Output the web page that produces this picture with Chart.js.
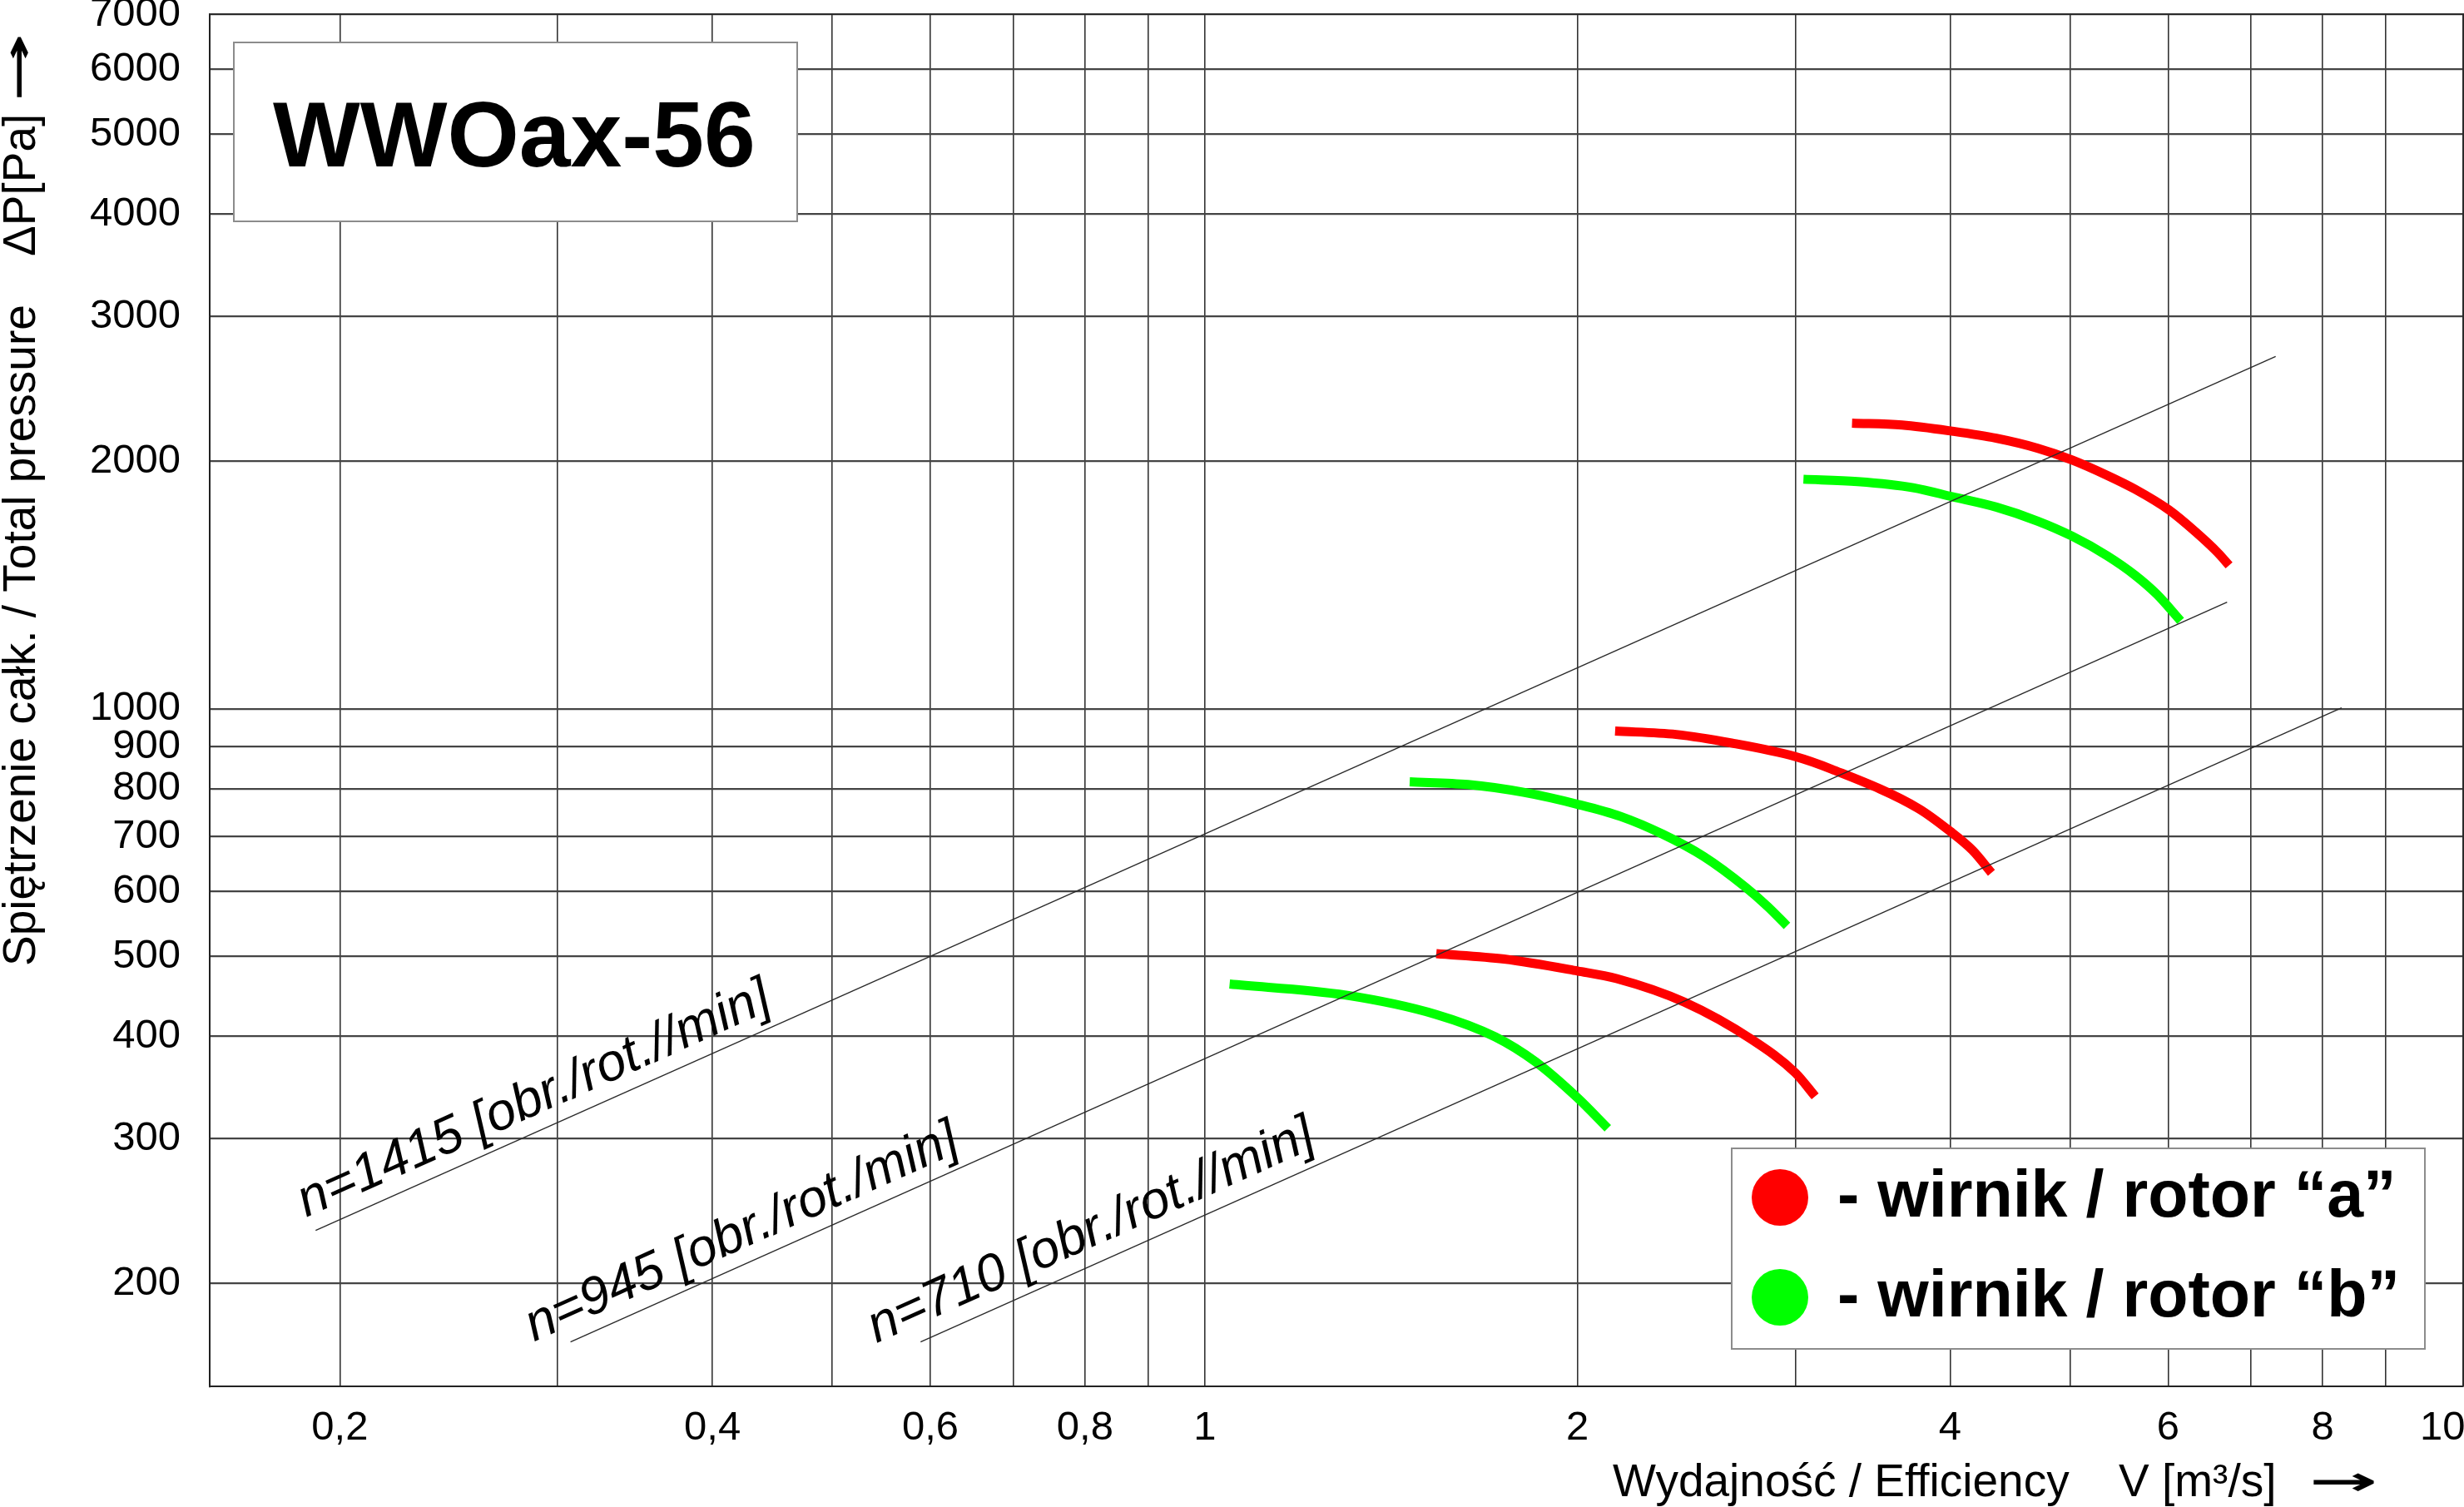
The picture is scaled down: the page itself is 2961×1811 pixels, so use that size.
<!DOCTYPE html>
<html>
<head>
<meta charset="utf-8">
<script src="https://cdn.jsdelivr.net/npm/chart.js@4.4.1/dist/chart.umd.min.js"></script>
<style>
  html, body { margin: 0; padding: 0; background: #ffffff; }
  #wrap { width: 2961px; height: 1811px; position: relative; }
  canvas { display: block; }
</style>
</head>
<body>
<div id="wrap"><canvas id="c" width="2961" height="1811"></canvas></div>
<script>
// ---------------- DATA ----------------
const chartTitle = 'WWOax-56';

const xTickValues = [0.2, 0.3, 0.4, 0.5, 0.6, 0.7, 0.8, 0.9, 1, 2, 3, 4, 5, 6, 7, 8, 9, 10];
const xTickLabels = ['0,2', '', '0,4', '', '0,6', '', '0,8', '', '1', '2', '', '4', '', '6', '', '8', '', '10'];
const yTickValues = [200, 300, 400, 500, 600, 700, 800, 900, 1000, 2000, 3000, 4000, 5000, 6000, 7000];
const yTickLabels = ['200', '300', '400', '500', '600', '700', '800', '900', '1000', '2000', '3000', '4000', '5000', '6000', '7000'];

const xAxisTitleParts = ['Wydajność / Efficiency', 'V [m³/s]', '→'];
const yAxisTitleParts = ['Spiętrzenie całk. / Total pressure', 'ΔP[Pa]', '→'];

const legendLabels = ['- wirnik / rotor “a”', '- wirnik / rotor “b”'];

// speed (rpm) reference lines
const speedLabels = ['n=1415 [obr./rot.//min]', 'n=945 [obr./rot./min]', 'n=710 [obr./rot.//min]'];
const speed1415X = [0.1912, 7.33];
const speed1415Y = [232.1, 2683];
const speed945X = [0.3072, 6.697];
const speed945Y = [169.9, 1349];
const speed710X = [0.5892, 8.287];
const speed710Y = [169.9, 1003];

// rotor "a" (red) curves
const rotorA1415X = [3.333, 3.658, 4.015, 4.359, 4.709, 5.021, 5.357, 5.641, 6.010, 6.318, 6.585, 6.722];
const rotorA1415Y = [2227, 2215, 2177, 2134, 2075, 2008, 1924, 1851, 1746, 1641, 1548, 1495];
const rotorA945X = [2.145, 2.403, 2.664, 3.0, 3.207, 3.77, 4.0, 4.171, 4.32];
const rotorA945Y = [940, 931, 909, 875, 845, 757, 710, 673, 632];
const rotorA710X = [1.538, 1.745, 2.0, 2.151, 2.44, 2.767, 3.0, 3.112];
const rotorA710Y = [504, 496.3, 480.0, 469.9, 439.9, 396, 360.8, 337.9];

// rotor "b" (green) curves
const rotorB1415X = [3.045, 3.368, 3.734, 4.015, 4.359, 4.709, 5.021, 5.357, 5.641, 5.879, 6.142];
const rotorB1415Y = [1903, 1890, 1858, 1812, 1760, 1692, 1622, 1536, 1455, 1378, 1280];
const rotorB945X = [1.4637, 1.6316, 1.8093, 2.0033, 2.167, 2.342, 2.530, 2.733, 2.848, 2.953];
const rotorB945Y = [815.4, 809.2, 791.7, 765.2, 740, 704.4, 661.3, 607.2, 575.2, 544.8];
const rotorB710X = [1.047, 1.30, 1.538, 1.716, 1.85, 2.0, 2.116];
const rotorB710Y = [462.8, 448.6, 424.9, 399.2, 372.2, 336.5, 309.0];

// ---------------- STYLE ----------------
const FONT = "'Liberation Sans', Arial, Helvetica, sans-serif";
const ARROW_FONT = "bold 60px 'DejaVu Sans', sans-serif";
const RED = '#ff0000';
const GREEN = '#00ff00';
const LINE_DARK = '#2a2a2a';
// label offsets along / normal to each speed line (px)
const speedLabelOffsets = [[-4, 19], [-40, 18], [-49, 20]];

function pts(xs, ys) { return xs.map((x, i) => ({ x: x, y: ys[i] })); }

function refLine(xs, ys) {
  return { data: pts(xs, ys), borderColor: LINE_DARK, borderWidth: 1.4, pointRadius: 0, tension: 0, fill: false };
}
function curve(xs, ys, color) {
  return { data: pts(xs, ys), borderColor: color, borderWidth: 11, pointRadius: 0,
           cubicInterpolationMode: 'monotone', fill: false, borderCapStyle: 'butt', borderJoinStyle: 'round' };
}

const datasets = [
  refLine(speed1415X, speed1415Y),
  refLine(speed945X, speed945Y),
  refLine(speed710X, speed710Y),
  curve(rotorA1415X, rotorA1415Y, RED),
  curve(rotorB1415X, rotorB1415Y, GREEN),
  curve(rotorA945X, rotorA945Y, RED),
  curve(rotorB945X, rotorB945Y, GREEN),
  curve(rotorA710X, rotorA710Y, RED),
  curve(rotorB710X, rotorB710Y, GREEN)
];

const speedLines = [[speed1415X, speed1415Y], [speed945X, speed945Y], [speed710X, speed710Y]];

// draws an arrow glyph fitted to a box: (x0, cy) left-centre, given length and height
function fitArrow(ctx, glyph, x0, cy, len, h) {
  ctx.save();
  ctx.font = ARROW_FONT;
  ctx.textBaseline = 'alphabetic';
  ctx.textAlign = 'left';
  const m = ctx.measureText(glyph);
  const gw = m.actualBoundingBoxLeft + m.actualBoundingBoxRight;
  const gh = m.actualBoundingBoxAscent + m.actualBoundingBoxDescent;
  ctx.translate(x0, cy);
  ctx.scale(len / gw, h / gh);
  ctx.fillText(glyph, m.actualBoundingBoxLeft, (m.actualBoundingBoxAscent - m.actualBoundingBoxDescent) / 2);
  ctx.restore();
}

const decorPlugin = {
  id: 'decor',
  afterDatasetsDraw(chart) {
    const ctx = chart.ctx;
    const ca = chart.chartArea;
    const xs = chart.scales.x, ys = chart.scales.y;
    ctx.save();

    // frame (top and right)
    ctx.strokeStyle = LINE_DARK;
    ctx.lineWidth = 2;
    ctx.beginPath();
    ctx.moveTo(ca.left, ca.top); ctx.lineTo(ca.right, ca.top); ctx.lineTo(ca.right, ca.bottom);
    ctx.stroke();

    // speed labels along lines
    ctx.fillStyle = '#000';
    ctx.font = 'italic 63px ' + FONT;
    ctx.textBaseline = 'alphabetic';
    ctx.textAlign = 'left';
    speedLines.forEach((ln, i) => {
      const p0x = xs.getPixelForValue(ln[0][0]), p0y = ys.getPixelForValue(ln[1][0]);
      const p1x = xs.getPixelForValue(ln[0][1]), p1y = ys.getPixelForValue(ln[1][1]);
      const ang = Math.atan2(p1y - p0y, p1x - p0x);
      ctx.save();
      ctx.translate(p0x, p0y);
      ctx.rotate(ang);
      ctx.fillText(speedLabels[i], speedLabelOffsets[i][0], -speedLabelOffsets[i][1]);
      ctx.restore();
    });

    // title box
    const tbx = ca.left + 29, tby = ca.top + 34, tbw = 677, tbh = 215;
    ctx.fillStyle = '#fff';
    ctx.fillRect(tbx, tby, tbw, tbh);
    ctx.strokeStyle = '#8c8c8c';
    ctx.lineWidth = 2;
    ctx.strokeRect(tbx, tby, tbw, tbh);
    ctx.fillStyle = '#000';
    ctx.font = 'bold 111px ' + FONT;
    ctx.textBaseline = 'alphabetic';
    ctx.fillText(chartTitle, tbx + 47, tby + 149);

    // legend box
    const lbx = 2081, lby = 1380, lbw = 833, lbh = 241;
    ctx.fillStyle = '#fff';
    ctx.fillRect(lbx, lby, lbw, lbh);
    ctx.strokeStyle = '#8c8c8c';
    ctx.lineWidth = 2;
    ctx.strokeRect(lbx, lby, lbw, lbh);
    const legColors = [RED, GREEN];
    legendLabels.forEach((t, i) => {
      const cy = lby + 59 + i * 120;
      ctx.fillStyle = legColors[i];
      ctx.beginPath();
      ctx.arc(lbx + 58, cy, 34, 0, Math.PI * 2);
      ctx.fill();
      ctx.fillStyle = '#000';
      ctx.font = 'bold 79px ' + FONT;
      ctx.fillText(t, lbx + 127, cy + 23);
    });

    // x axis title
    ctx.fillStyle = '#000';
    ctx.font = '55px ' + FONT;
    const xb = 1798;
    ctx.fillText(xAxisTitleParts[0], 1938, xb);
    ctx.fillText(xAxisTitleParts[1], 2546, xb);
    fitArrow(ctx, xAxisTitleParts[2], 2780, 1781, 74, 22);

    // y axis title (rotated)
    ctx.save();
    ctx.translate(42, 0);
    ctx.rotate(-Math.PI / 2);
    ctx.font = '55px ' + FONT;
    ctx.fillText(yAxisTitleParts[0], -1161, 0);
    ctx.fillText(yAxisTitleParts[1], -308, 0);
    fitArrow(ctx, yAxisTitleParts[2], -117, -19, 74, 22);
    ctx.restore();

    ctx.restore();
  }
};

Chart.defaults.font.family = FONT;
Chart.defaults.color = '#000';

new Chart(document.getElementById('c'), {
  type: 'line',
  data: { datasets: datasets },
  options: {
    responsive: false,
    animation: false,
    devicePixelRatio: 1,
    layout: { padding: { top: 17, right: 1, left: 0, bottom: 0 } },
    plugins: { legend: { display: false }, tooltip: { enabled: false } },
    scales: {
      x: {
        type: 'logarithmic',
        position: 'bottom',
        min: 0.157,
        max: 10.39,
        afterBuildTicks: (s) => { s.ticks = xTickValues.map(v => ({ value: v })); },
        afterFit: (s) => { s.height = 145; s.paddingLeft = 0; s.paddingRight = 0; },
        ticks: {
          autoSkip: false, maxRotation: 0, minRotation: 0, padding: 21,
          font: { size: 49 }, color: '#000',
          callback: (v, i) => xTickLabels[i]
        },
        grid: {
          drawTicks: false,
          lineWidth: 1.6,
          color: (c) => (c.tick && c.tick.value === 10) ? 'rgba(0,0,0,0)' : '#333'
        },
        border: { display: true, color: '#222', width: 2 }
      },
      y: {
        type: 'logarithmic',
        position: 'left',
        min: 150,
        max: 7000,
        afterBuildTicks: (s) => { s.ticks = yTickValues.map(v => ({ value: v })); },
        afterFit: (s) => { s.width = 252; s.paddingTop = 0; s.paddingBottom = 0; },
        ticks: {
          autoSkip: false, padding: 35,
          font: { size: 49 }, color: '#000',
          callback: (v, i) => yTickLabels[i]
        },
        grid: { drawTicks: false, lineWidth: 2.2, color: '#444' },
        border: { display: true, color: '#222', width: 2 }
      }
    }
  },
  plugins: [decorPlugin]
});
</script>
</body>
</html>
